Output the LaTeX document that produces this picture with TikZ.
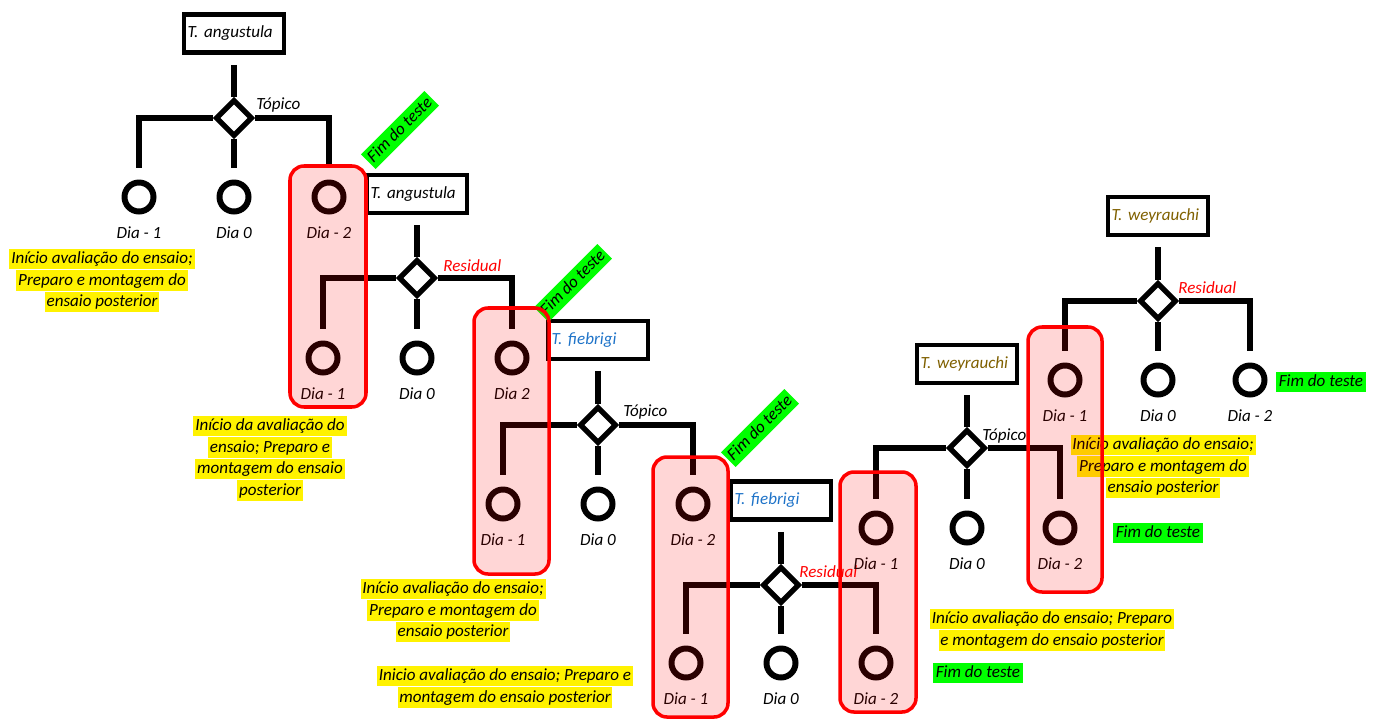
\documentclass[tikz,border=0pt]{standalone}
\usepackage{fontspec}
\setmainfont{Carlito}
\usetikzlibrary{positioning,shapes.geometric}

\definecolor{azul}{RGB}{30,115,200}
\definecolor{oliva}{RGB}{127,96,0}
\definecolor{verde}{RGB}{0,255,0}

\tikzset{
  especie/.style={draw, line width=2.8pt, minimum height=0.76cm, text width=1.86cm,
    inner xsep=0.07cm, align=left},
  trat/.style={diamond, draw, line width=3pt, minimum width=0.74cm, minimum height=0.74cm,
    inner sep=0pt},
  dia/.style={circle, draw, line width=3.4pt, minimum size=0.58cm, inner sep=0pt,
    label distance=0.48cm},
  dialbl/.style={anchor=base, inner sep=0pt},
  topico/.style={anchor=base west, inner sep=0pt},
  residual/.style={anchor=base west, inner sep=0pt, text=red},
  nota/.style={fill=yellow, inner xsep=1pt, inner ysep=0.6pt, text height=8pt, text depth=2.6pt},
  fim/.style={fill=verde, inner xsep=1.5pt, inner ysep=0.6pt, text height=8pt, text depth=2.6pt},
  haste/.style={shorten <=0.2cm},
  meio/.style={shorten >=0.23cm},
  ramo/.style={to path={-| (\tikztotarget)}, shorten >=0.23cm},
  grupo/.style={draw=red, line width=2pt, fill=red, fill opacity=0.16, rounded corners=0.28cm}
}

\begin{document}
\begin{tikzpicture}[x=0.02cm, y=-0.02cm, font=\fontsize{9.7}{11.7}\selectfont\itshape]
\useasboundingbox (0,0) rectangle (1375,720);

% especies
\node[especie] (b1) at (234,33.5) {T. angustula};
\node[especie] (b2) at (417,194) {T. angustula};
\node[especie, text=azul] (b3) at (598,340) {T. fiebrigi};
\node[especie, text=azul] (b4) at (781,500.5) {T. fiebrigi};
\node[especie, text=oliva] (b5) at (967,364) {T. weyrauchi};
\node[especie, text=oliva] (b6) at (1158,216) {T. weyrauchi};

% tratamentos
\node[trat] (d1) at (234,118) {};
\node[trat] (d2) at (417,278) {};
\node[trat] (d3) at (598,425) {};
\node[trat] (d4) at (781,585) {};
\node[trat] (d5) at (967,448) {};
\node[trat] (d6) at (1158,301) {};

\node[topico] (t1) at (256,109.5) {Tópico};
\node[residual] (t2) at (443,271.5) {Residual};
\node[topico] (t3) at (623,416.5) {Tópico};
\node[residual] (t4) at (799,577.5) {Residual};
\node[topico] (t5) at (982,440.5) {Tópico};
\node[residual] (t6) at (1178,293.5) {Residual};

\begin{scope}[every node/.style={dia}]
  \node[label={[dialbl]below:Dia - 1}] (c1a) at (139,197) {};
  \node[label={[dialbl]below:Dia 0}] (c1b) at (234,197) {};
  \node[label={[dialbl]below:Dia - 2}] (c1c) at (329,197) {};
  \node[label={[dialbl]below:Dia - 1}] (c2a) at (323,358) {};
  \node[label={[dialbl]below:Dia 0}] (c2b) at (417,358) {};
  \node[label={[dialbl]below:Dia 2}] (c2c) at (512,358) {};
  \node[label={[dialbl]below:Dia - 1}] (c3a) at (503,504) {};
  \node[label={[dialbl]below:Dia 0}] (c3b) at (598,504) {};
  \node[label={[dialbl]below:Dia - 2}] (c3c) at (693,504) {};
  \node[label={[dialbl]below:Dia - 1}] (c4a) at (686,663) {};
  \node[label={[dialbl]below:Dia 0}] (c4b) at (781,663) {};
  \node[label={[dialbl]below:Dia - 2}] (c4c) at (876,663) {};
  \node[label={[dialbl]below:Dia - 1}] (c5a) at (876,528) {};
  \node[label={[dialbl]below:Dia 0}] (c5b) at (967,528) {};
  \node[label={[dialbl]below:Dia - 2}] (c5c) at (1060,528) {};
  \node[label={[dialbl]below:Dia - 1}] (c6a) at (1065,380) {};
  \node[label={[dialbl]below:Dia 0}] (c6b) at (1158,380) {};
  \node[label={[dialbl]below:Dia - 2}] (c6c) at (1250,380) {};
\end{scope}

\begin{scope}[every edge/.style={draw, line width=3pt}]
  \path (b1) edge[haste] (d1) (d1.west) edge[ramo] (c1a) (d1) edge[meio] (c1b) (d1.east) edge[ramo] (c1c);
  \path (b2) edge[haste] (d2) (d2.west) edge[ramo] (c2a) (d2) edge[meio] (c2b) (d2.east) edge[ramo] (c2c);
  \path (b3) edge[haste] (d3) (d3.west) edge[ramo] (c3a) (d3) edge[meio] (c3b) (d3.east) edge[ramo] (c3c);
  \path (b4) edge[haste] (d4) (d4.west) edge[ramo] (c4a) (d4) edge[meio] (c4b) (d4.east) edge[ramo] (c4c);
  \path (b5) edge[haste] (d5) (d5.west) edge[ramo] (c5a) (d5) edge[meio] (c5b) (d5.east) edge[ramo] (c5c);
  \path (b6) edge[haste] (d6) (d6.west) edge[ramo] (c6a) (d6) edge[meio] (c6b) (d6.east) edge[ramo] (c6c);
\end{scope}

% notas
\node[nota] (n1a) at (102,259) {Início avaliação do ensaio;};
\node[nota, below=0pt of n1a] (n1b) {Preparo e montagem do};
\node[nota, below=0pt of n1b] (n1c) {ensaio posterior};

\node[nota] (n2a) at (270,426) {Início da avaliação do};
\node[nota, below=0pt of n2a] (n2b) {ensaio; Preparo e};
\node[nota, below=0pt of n2b] (n2c) {montagem do ensaio};
\node[nota, below=0pt of n2c] (n2d) {posterior};

\node[nota] (n3a) at (453,589) {Início avaliação do ensaio;};
\node[nota, below=0pt of n3a] (n3b) {Preparo e montagem do};
\node[nota, below=0pt of n3b] (n3c) {ensaio posterior};

\node[nota] (n4a) at (505,676) {Inicio avaliação do ensaio; Preparo e};
\node[nota, below=0pt of n4a] (n4b) {montagem do ensaio posterior};

\node[nota] (n5a) at (1052,619) {Início avaliação do ensaio; Preparo};
\node[nota, below=0pt of n5a] (n5b) {e montagem do ensaio posterior};

\node[nota] (n6a) at (1163,445) {Início avaliação do ensaio;};
\node[nota, below=0pt of n6a] (n6b) {Preparo e montagem do};
\node[nota, below=0pt of n6b] (n6c) {ensaio posterior};

% fim do teste
\node[fim, rotate=45] (f1) at (400,130) {Fim do teste};
\node[fim, rotate=45] (f2) at (573,283) {Fim do teste};
\node[fim, rotate=45] (f3) at (760,428) {Fim do teste};
\node[fim] (f4) at (978,673) {Fim do teste};
\node[fim] (f5) at (1158,533) {Fim do teste};
\node[fim] (f6) at (1321,382) {Fim do teste};

% grupos
\path[grupo] (290,166) rectangle (366,407);
\path[grupo] (474,308) rectangle (549,574);
\path[grupo] (653,457) rectangle (728,717);
\path[grupo] (840,472) rectangle (916,712);
\path[grupo] (1028,327) rectangle (1102,592);

\end{tikzpicture}
\end{document}
